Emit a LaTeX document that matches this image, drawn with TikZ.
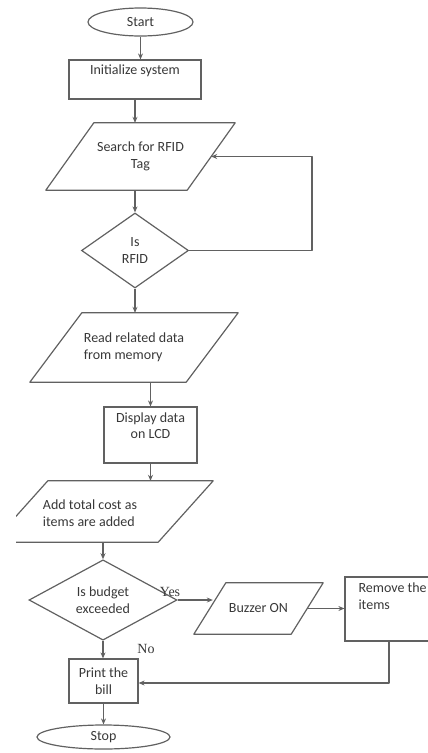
\documentclass[tikz,border=0pt]{standalone}
\usepackage{fontspec}
\setmainfont{Carlito}
\newfontfamily\notefont{Liberation Serif}
\usetikzlibrary{shapes.geometric,arrows.meta}
\tikzset{
  flowline/.style={line width=1.2pt, draw=black!62, line join=round},
  flowarrow/.style={flowline, -{Stealth[length=6pt,width=5pt]}},
  terminal/.style={ellipse, draw=black!62, line width=1.2pt, inner sep=0pt},
  procbox/.style={rectangle, draw=black!62, line width=1.2pt, inner sep=0pt},
  iobody/.style={rectangle, inner sep=0pt},
  decision/.style={diamond, draw=black!62, line width=1.2pt, inner sep=0pt},
  boxlabel/.style={font=\fontsize{14}{16.5}\selectfont, text=black!78, align=center},
  branchlabel/.style={font=\notefont\fontsize{14}{16}\selectfont, text=black!78, inner sep=0pt},
}
\begin{document}
\begin{tikzpicture}[x=1pt, y=-1pt]
\useasboundingbox (0,0) rectangle (428,753);
\clip (16,0) rectangle (428,753);
% shapes
\node[terminal, boxlabel, minimum width=105pt, minimum height=28pt] (start) at (140.5,22) {Start};
\node[procbox, minimum width=132pt, minimum height=39pt] (init) at (135,79.5) {};
\node[boxlabel] (inittext) at (135,71) {Initialize system};
\node[iobody, boxlabel, minimum width=189pt, minimum height=67pt] (search) at (140.5,156.5) {Search for RFID\\Tag};
\draw[flowline] (search.south west) -- ([xshift=-48pt]search.south east) -- (search.north east)
  -- ([xshift=48pt]search.north west) -- cycle;
\node[decision, boxlabel, minimum width=107pt, minimum height=75pt] (isrfid) at (135,250.5) {Is\\RFID};
\node[iobody, boxlabel, align=left, minimum width=208pt, minimum height=69pt] (read) at (134,347.5) {Read related data\\from memory};
\draw[flowline] (read.south west) -- ([xshift=-52pt]read.south east) -- (read.north east)
  -- ([xshift=52pt]read.north west) -- cycle;
\node[procbox, minimum width=93pt, minimum height=56pt] (disp) at (150.5,435) {};
\node[boxlabel] (disptext) at (150.5,425.5) {Display data\\on LCD};
\node[iobody, minimum width=220pt, minimum height=61pt] (add) at (103,511.5) {};
\draw[flowline] (add.south west) -- ([xshift=-55pt]add.south east) -- (add.north east)
  -- ([xshift=55pt]add.north west) -- cycle;
\node[boxlabel, align=left] (addtext) at (90,513) {Add total cost as\\items are added};
\node[decision, boxlabel, minimum width=148pt, minimum height=74pt] (budget) at (103,600) {Is budget\\exceeded};
\node[iobody, boxlabel, minimum width=129pt, minimum height=51pt] (buzzer) at (258.5,608.5) {Buzzer ON};
\draw[flowline] (buzzer.south west) -- ([xshift=-32pt]buzzer.south east) -- (buzzer.north east)
  -- ([xshift=32pt]buzzer.north west) -- cycle;
\node[procbox, minimum width=85pt, minimum height=64pt] (remove) at (387.5,609) {};
\node[boxlabel, align=left, anchor=west] (removetext) at (355,596) {Remove the\\items};
\node[procbox, boxlabel, minimum width=69pt, minimum height=44pt] (print) at (103.5,681) {Print the\\bill};
\node[terminal, boxlabel, minimum width=133pt, minimum height=24pt] (stop) at (103.5,737) {Stop};
\node[branchlabel] (yes) at (170,592) {Yes};
\node[branchlabel] (no) at (146,649) {No};
% connectors
\coordinate (rfidloop) at (312,156.5);
\coordinate (searchin) at ([xshift=-24pt]search.east);
\coordinate (buzzin) at ([xshift=19pt]buzzer.west);
\coordinate (buzzout) at ([xshift=-16pt]buzzer.east);
\coordinate (backturn) at (389,683);
\draw[flowarrow] (start.south) -- (start.south |- init.north);
\draw[flowarrow] (init.south) -- (init.south |- search.north);
\draw[flowarrow] (isrfid.north |- search.south) -- (isrfid.north);
\draw[flowarrow] (isrfid.east) -| (rfidloop) -- (searchin);
\draw[flowarrow] (isrfid.south) -- (isrfid.south |- read.north);
\draw[flowarrow] (disp.north |- read.south) -- (disp.north);
\draw[flowarrow] (disp.south) -- (disp.south |- add.north);
\draw[flowarrow] (budget.north |- add.south) -- (budget.north);
\draw[flowarrow] (budget.east) -- (budget.east -| buzzin);
\draw[flowarrow] (buzzout) -- (buzzout -| remove.west);
\draw[flowarrow] (backturn |- remove.south) -- (backturn) -- (backturn -| print.east);
\draw[flowarrow] (budget.south) -- (budget.south |- print.north);
\draw[flowarrow] (print.south) -- (stop.north);
\end{tikzpicture}
\end{document}
